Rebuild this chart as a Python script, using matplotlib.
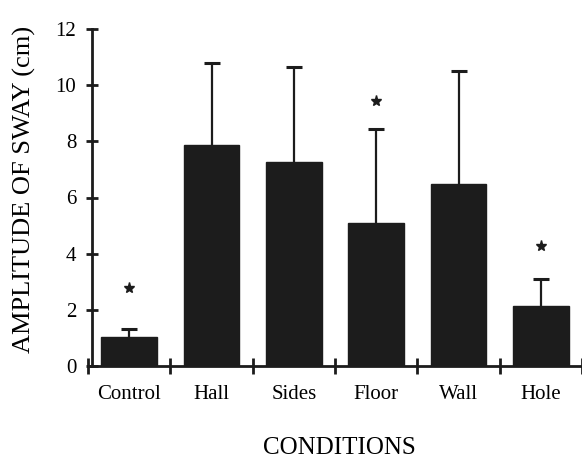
import matplotlib
matplotlib.use("Agg")
import matplotlib.pyplot as plt
import numpy as np

conditions = ["Control", "Hall", "Sides", "Floor", "Wall", "Hole"]
means = [1.03, 7.87, 7.27, 5.10, 6.49, 2.13]
sd_upper = [0.27, 2.91, 3.37, 3.34, 4.01, 0.96]
star_flags = [True, False, False, True, False, True]
star_y = [2.77, 0, 0, 9.43, 0, 4.26]
yticks = [0, 2, 4, 6, 8, 10, 12]

plt.rcParams['font.family'] = ['Liberation Serif', 'DejaVu Serif']

fig = plt.figure(figsize=(5.82, 4.58), dpi=100)
ax = fig.add_axes([88/582, 92/458, 494/582, 337/458])

x = np.arange(len(conditions))
ax.bar(x, means, width=0.68, color="#1c1c1c", edgecolor="#1c1c1c", zorder=2)
ax.errorbar(x, means, yerr=[np.zeros(len(means)), sd_upper], fmt="none",
            ecolor="#1c1c1c", elinewidth=1.6, capsize=0, zorder=1)
tops = np.array(means) + np.array(sd_upper)
ax.plot(x, tops, linestyle="none", marker="_", markersize=11, markeredgewidth=2.2,
        color="#1c1c1c", zorder=3)

sx = [xi for xi, f in zip(x, star_flags) if f]
sy = [yv for yv, f in zip(star_y, star_flags) if f]
ax.plot(sx, sy, linestyle="none", marker="*", markersize=8, color="#1c1c1c", zorder=3)

ax.set_xlim(-0.5, 5.5)
ax.set_ylim(0, 12)
ax.spines["left"].set_position(("data", -0.45))
for s in ["top", "right"]:
    ax.spines[s].set_visible(False)
for s in ["left", "bottom"]:
    ax.spines[s].set_linewidth(2.0)
    ax.spines[s].set_color("#1c1c1c")

ax.set_yticks(yticks)
ax.set_yticklabels([str(v) for v in yticks], fontsize=15)
ax.tick_params(axis="y", direction="inout", length=9, width=2, pad=7, color="#1c1c1c")

ax.set_xticks(np.arange(-0.5, 6.0, 1.0))
ax.set_xticklabels([])
ax.set_xticks(x, minor=True)
ax.set_xticklabels(conditions, minor=True, fontsize=15)
ax.tick_params(axis="x", which="major", direction="inout", length=11, width=2, color="#1c1c1c")
ax.tick_params(axis="x", which="minor", length=0, pad=14)

ax.set_ylabel("AMPLITUDE OF SWAY (cm)", fontsize=19)
ax.yaxis.set_label_coords(-0.106, 0.525)
fig.text(339/582, 1 - 448/458, "CONDITIONS", ha="center", va="center", fontsize=18)

fig.savefig("out.png", dpi=100, facecolor="white")
